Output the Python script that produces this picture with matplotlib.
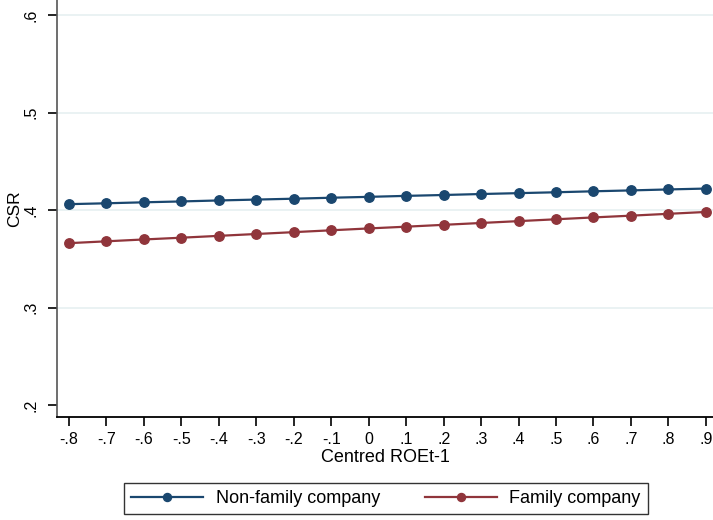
import matplotlib
matplotlib.use("Agg")
import matplotlib.pyplot as plt

plt.rcParams['font.family'] = ['Liberation Sans', 'DejaVu Sans']

roe = [-0.8, -0.7, -0.6, -0.5, -0.4, -0.3, -0.2, -0.1, 0.0,
       0.1, 0.2, 0.3, 0.4, 0.5, 0.6, 0.7, 0.8, 0.9]
x_labels = ["-.8", "-.7", "-.6", "-.5", "-.4", "-.3", "-.2", "-.1", "0",
            ".1", ".2", ".3", ".4", ".5", ".6", ".7", ".8", ".9"]
non_family = [0.4060, 0.4069, 0.4079, 0.4088, 0.4098, 0.4107, 0.4116, 0.4126, 0.4135,
              0.4145, 0.4154, 0.4164, 0.4173, 0.4182, 0.4192, 0.4201, 0.4211, 0.4220]
family = [0.3660, 0.3679, 0.3698, 0.3716, 0.3735, 0.3754, 0.3773, 0.3792, 0.3811,
          0.3829, 0.3848, 0.3867, 0.3886, 0.3905, 0.3924, 0.3942, 0.3961, 0.3980]
y_ticks = [0.2, 0.3, 0.4, 0.5, 0.6]
y_labels = [".2", ".3", ".4", ".5", ".6"]

navy = "#1a476f"
maroon = "#90353b"

fig = plt.figure(figsize=(7.13, 5.20), dpi=100)
ax = fig.add_axes([57 / 713, 103 / 520, 656 / 713, 417 / 520])

for yv in y_ticks[1:]:
    ax.axhline(yv, color="#eaf2f3", lw=1.4, zorder=0)

ax.plot(roe, non_family, color=navy, lw=1.6, marker="o", markersize=6.8,
        label="Non-family company", zorder=3)
ax.plot(roe, family, color=maroon, lw=1.6, marker="o", markersize=6.8,
        label="Family company", zorder=3)

ax.set_xlim(-0.832, 0.919)
ax.set_ylim(0.1877, 0.6154)
ax.set_xticks(roe)
ax.set_xticklabels(x_labels)
ax.set_yticks(y_ticks)
ax.set_yticklabels(y_labels, rotation=90, va="center")

for s in ["top", "right"]:
    ax.spines[s].set_visible(False)
ax.spines["bottom"].set_color("#000000")
ax.spines["bottom"].set_linewidth(1.3)
ax.spines["left"].set_color("#555555")
ax.spines["left"].set_linewidth(1.2)

ax.tick_params(axis="both", direction="out", length=6.5, width=1.2,
               labelsize=11.5, colors="#000000", pad=4)
ax.tick_params(axis="y", pad=7)

ax.set_xlabel("Centred ROEt-1", fontsize=13, labelpad=2)
ax.set_ylabel("CSR", fontsize=12.5, labelpad=1)

leg = fig.legend(loc="center", bbox_to_anchor=(386 / 713, 1 - 498.5 / 520),
                 ncol=2, fontsize=13, frameon=True, fancybox=False,
                 handlelength=4.0, columnspacing=2.45, borderpad=0.4,
                 handletextpad=0.7, markerscale=0.85)
leg.get_frame().set_edgecolor("#000000")
leg.get_frame().set_linewidth(1.0)

fig.savefig("out.png", dpi=100)
